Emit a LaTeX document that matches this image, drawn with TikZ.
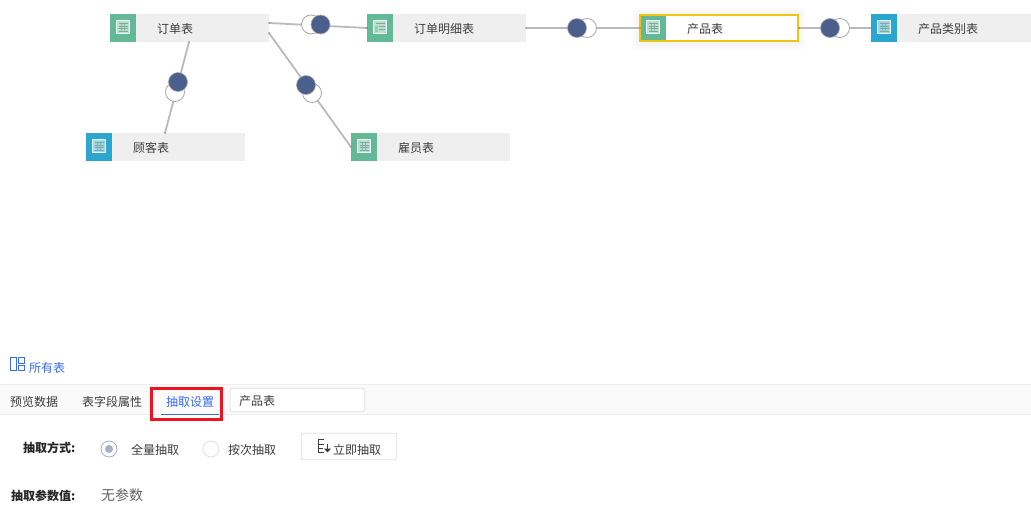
\documentclass[tikz,border=0pt]{standalone}
\usepackage{fontspec}
\usetikzlibrary{arrows.meta}
\setmainfont{Noto Sans CJK SC}
\definecolor{tblgray}{HTML}{EFEFEF}
\definecolor{tealc}{HTML}{63B996}
\definecolor{bluec}{HTML}{2BA6CF}
\definecolor{navy}{HTML}{4B5F8D}
\definecolor{linkc}{HTML}{BABABA}
\definecolor{ringcol}{HTML}{A8A8A8}
\definecolor{yel}{HTML}{F2C40F}
\definecolor{txt}{HTML}{3C3C3C}
\definecolor{linkblue}{HTML}{3D6BF0}
\definecolor{barbg}{HTML}{FAFAFA}
\definecolor{barln}{HTML}{EDEEF0}
\definecolor{redb}{HTML}{EA1520}
\definecolor{inbd}{HTML}{DDDFE6}
\definecolor{gridc}{HTML}{7FA99A}
\tikzset{
 x=1pt,y=-1pt,
 tbl/.style={draw=none,fill=tblgray,minimum width=159pt,minimum height=28pt,inner sep=0pt,outer sep=0pt,anchor=north west},
 tblsel/.style={tbl,fill=white,minimum width=158pt,minimum height=26pt},
 iconbox/.style={minimum width=26pt,minimum height=28pt,inner sep=0pt,outer sep=0pt,anchor=north west},
 label/.style={text=txt,font=\fontsize{12}{14}\selectfont,inner sep=0pt,anchor=west},
 strong/.style={label,text=black!85,font=\fontsize{12}{14}\selectfont\bfseries},
 link/.style={draw=linkc,line width=1.8pt},
 portdot/.style={fill=black!75},
 ringnode/.style={circle,draw=ringcol,fill=white,line width=.8pt,minimum size=19pt,inner sep=0pt},
 dotnode/.style={circle,draw=ringcol,fill=navy,line width=.6pt,minimum size=19pt,inner sep=0pt},
 glyph/.style={draw=white,line width=1pt,opacity=.9},
 radio/.style={circle,draw=inbd,fill=white,line width=.8pt,minimum size=16pt,inner sep=0pt},
 panelbox/.style={draw=inbd,fill=white,rounded corners=2pt,line width=.8pt,inner sep=0pt,outer sep=0pt,anchor=north west},
}
\newcommand{\tblicon}[3]{%
 \node[iconbox,fill=#3] (#1-i) at #2 {};
 \begin{scope}[shift={(#1-i.center)},yshift=1pt]
  \fill[white,opacity=.55] (-6.2,-6.2) rectangle (6.2,6.2);
  \draw[glyph] (-6.2,-6.2) rectangle (6.2,6.2);
  \draw[gridc,line width=.7pt] (-4.5,-3.5)--(4.5,-3.5) (-4.5,-1)--(4.5,-1) (-4.5,1.5)--(4.5,1.5) (-4.5,4)--(4.5,4);
  \draw[gridc,opacity=.7,line width=.5pt] (-1.5,-3.5)--(-1.5,4) (1.5,-3.5)--(1.5,4);
 \end{scope}}
\newcommand{\formicon}[3]{%
 \node[iconbox,fill=#3] (#1-i) at #2 {};
 \begin{scope}[shift={(#1-i.center)},yshift=1pt]
  \fill[white,opacity=.55] (-6.2,-6.2) rectangle (6.2,6.2);
  \draw[glyph] (-6.2,-6.2) rectangle (6.2,6.2);
  \draw[gridc,line width=.8pt] (-4.5,-3.5)--(4.5,-3.5) (-1.5,-0.5)--(4.5,-0.5) (-1.5,2.5)--(4.5,2.5);
  \fill[tealc!70!white] (-4.8,-1.5) rectangle (-2.5,4.5);
 \end{scope}}
\begin{document}
\begin{tikzpicture}
\useasboundingbox (0,0) rectangle (1031,522);
\fill[white] (0,0) rectangle (1031,522);
% soft shadow of the selected table
\foreach \d in {7,5,3}{\fill[black,opacity=.012,rounded corners=3pt] (639-\d,14-\d+1) rectangle (799+\d,42+\d+1);}
% tables
\node[tbl] (orders) at (110,14) {};
\node[tbl] (details) at (367,14) {};
\node[tblsel] (product) at (640,15) {};
\node[tbl,minimum width=160pt] (category) at (871,14) {};
\node[tbl] (customer) at (86,133) {};
\node[tbl] (employee) at (351,133) {};
\tblicon{orders}{(110,14)}{tealc}
\formicon{details}{(367,14)}{tealc}
\tblicon{product}{(640,14)}{tealc}
\tblicon{category}{(871,14)}{bluec}
\tblicon{customer}{(86,133)}{bluec}
\tblicon{employee}{(351,133)}{tealc}
\draw[yel,line width=2pt] (product.north west) rectangle (product.south east);
\node[label] (orders-t) at (157,28.5) {订单表};
\node[label] (details-t) at (414,28.5) {订单明细表};
\node[label] (product-t) at (687,28.5) {产品表};
\node[label] (category-t) at (918,28.5) {产品类别表};
\node[label] (customer-t) at (133,147.5) {顾客表};
\node[label] (employee-t) at (398,147.5) {雇员表};
% ports
\coordinate (o-r1) at (269,23);
\coordinate (o-r2) at (269,33);
\coordinate (o-b) at (189,42);
\coordinate (d-l) at (367,28);
\coordinate (d-r) at (526,28);
\coordinate (p-l) at (640,28);
\coordinate (p-r) at (799,28);
\coordinate (ca-l) at (871,28);
\coordinate (cu-t) at (165,133);
\coordinate (e-l) at (351,147);
% connectors
\draw[link] (o-r1) -- (d-l);
\draw[link] (o-b) -- (cu-t);
\draw[link] (o-r2) -- (e-l);
\draw[link] (d-r) -- (p-l);
\draw[link] (p-r) -- (ca-l);
\foreach \p in {o-r1,o-r2,o-b,d-l,d-r,p-l,p-r,cu-t,e-l}{\fill[portdot] (\p) circle (.7pt);}
% join markers
\node[ringnode] (j1a) at (311,24.5) {}; \node[dotnode] (j1b) at (320.5,24.5) {};
\node[ringnode] (j2a) at (175,92) {}; \node[dotnode] (j2b) at (178,82) {};
\node[ringnode] (j3a) at (312,93) {}; \node[dotnode] (j3b) at (306,85) {};
\node[ringnode] (j4a) at (587,28) {}; \node[dotnode] (j4b) at (577,28) {};
\node[ringnode] (j5a) at (840,28) {}; \node[dotnode] (j5b) at (830,28) {};
% all tables link
\draw[linkblue,line width=1pt] (10.5,357.5) rectangle (16.5,370.5) (18.8,357.5) rectangle (24,363) (18.8,365.5) rectangle (24,370.5);
\node[label,text=linkblue] (alltables) at (29,368) {所有表};
% tab bar
\fill[barbg] (0,384) rectangle (1031,414);
\draw[barln,line width=.8pt] (0,384.5) -- (1031,384.5) (0,414.5) -- (1031,414.5);
\node[label] (tab1) at (10,402) {预览数据};
\node[label] (tab2) at (82,402) {表字段属性};
\node[label,text=linkblue] (tab3) at (166,402) {抽取设置};
\draw[linkblue,line width=1pt] (161,414) -- (219,414);
\draw[redb,line width=3pt] (151.5,388.5) rectangle (221,419.2);
\node[panelbox,minimum width=134.5pt,minimum height=23.5pt] (inputbox) at (230.2,388.2) {};
\node[label] (inputtext) at (239,401) {产品表};
% form
\node[strong] (m-l) at (23,448) {抽取方式:};
\node[radio,draw=navy!50!white] (r1) at (109,449) {};
\node[circle,fill=navy!50!white,minimum size=8pt,inner sep=0pt] (r1d) at (r1) {};
\node[label] (r1t) at (131,450) {全量抽取};
\node[radio] (r2) at (211,449) {};
\node[label] (r2t) at (228,450) {按次抽取};
\node[panelbox,minimum width=95.5pt,minimum height=26.5pt] (btn) at (301.2,433.2) {};
\node[label] (btnt) at (333,450) {立即抽取};
\draw[txt,line width=.8pt] (324.3,439.5) -- (318.5,439.5) -- (318.5,452.7) -- (324.3,452.7) (318.5,444.5) -- (324.3,444.5) (318.5,448.5) -- (323,448.5);
\draw[txt,line width=1.5pt,-{Triangle[length=4pt,width=7pt]}] (327.5,444) -- (327.5,452.5);
\node[strong] (p-lab) at (11,495.5) {抽取参数值:};
\node[label,font=\fontsize{14}{16}\selectfont,text=txt!80] (p-val) at (101,495) {无参数};
\end{tikzpicture}
\end{document}
